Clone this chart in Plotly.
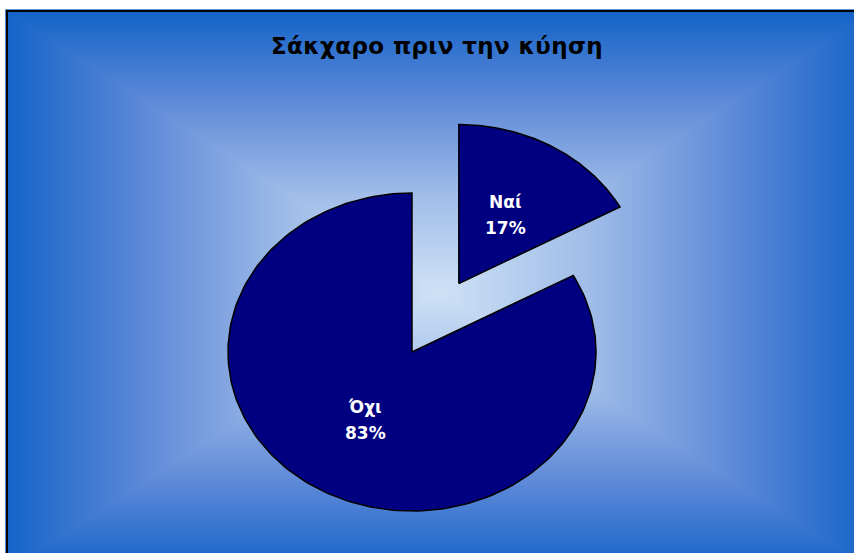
import numpy as np
import plotly.graph_objects as go

# ---- data ----
categories = ["Ναί", "Όχι"]
values = [17, 83]
pull = [0.5, 0.0]
title_text = "Σάκχαρο πριν την κύηση"

# ---- layout constants (pixels) ----
W, H = 854, 553
CX, CY = 412, 352      # pie centre in pixels
RX, RY = 184, 159      # ellipse radii in pixels
FILL = "#000080"
FONT = "DejaVu Sans, Verdana, sans-serif"

def ux(px):
    return (np.asarray(px, dtype=float) - CX) / RX

def uy(py):
    return (CY - np.asarray(py, dtype=float)) / RY

fig = go.Figure()

# ---- background gradient (rectangular "from centre") ----
gx0, gx1, gy0, gy1 = 7, 870, 11, 570
gcx, gcy = (gx0 + gx1) / 2, (gy0 + gy1) / 2 + 0
hw, hh = (gx1 - gx0) / 2, (gy1 - gy0) / 2
pxs = np.linspace(7, W, 240)
pys = np.linspace(H, 11, 160)
PX, PY = np.meshgrid(pxs, pys)
Z = np.maximum(np.abs(PX - gcx) / hw, np.abs(PY - gcy) / hh)
fig.add_trace(go.Heatmap(
    x=ux(pxs), y=uy(pys), z=Z, zmin=0, zmax=1, zsmooth="best",
    colorscale=[[0.0, "rgb(206,225,245)"], [0.35, "rgb(160,188,232)"],
                [0.7, "rgb(90,135,215)"], [1.0, "rgb(20,100,200)"]],
    showscale=False, hoverinfo="skip"))

# ---- pie slices computed from values ----
total = float(sum(values))
start = 90.0
annots = []
for name, v, p in zip(categories, values, pull):
    sweep = 360.0 * v / total
    a0, a1 = start, start - sweep
    mid = np.deg2rad((a0 + a1) / 2)
    ox, oy = p * np.cos(mid), p * np.sin(mid)
    th = np.deg2rad(np.linspace(a0, a1, 200))
    xs = np.concatenate([[ox], ox + np.cos(th), [ox]])
    ys = np.concatenate([[oy], oy + np.sin(th), [oy]])
    fig.add_trace(go.Scatter(x=xs, y=ys, mode="lines", fill="toself",
                             fillcolor=FILL, line=dict(color="black", width=1.5),
                             hoverinfo="skip", showlegend=False))
    lx, ly = ox + 0.5 * np.cos(mid), oy + 0.5 * np.sin(mid)
    pct = f"{round(100 * v / total)}%"
    for txt, sh in ((name, 13), (pct, -13)):
        annots.append(dict(x=lx, y=ly, text=f"<b>{txt}</b>", showarrow=False,
                           yshift=sh, font=dict(family=FONT, size=17, color="white")))
    start = a1

fig.update_layout(
    width=W, height=H, margin=dict(l=0, r=0, t=0, b=0),
    paper_bgcolor="white", plot_bgcolor="white", showlegend=False,
    xaxis=dict(range=[ux(0), ux(W)], domain=[0, 1], visible=False, fixedrange=True),
    yaxis=dict(range=[uy(H), uy(0)], domain=[0, 1], visible=False, fixedrange=True),
    title=dict(text=f'<span style="letter-spacing:0.4px"><b>{title_text}</b></span>',
               x=437 / W, xanchor="center",
               y=1 - 46 / H, yanchor="middle",
               font=dict(family=FONT, size=23, color="black")),
    annotations=annots,
    shapes=[dict(type="rect", xref="paper", yref="paper",
                 x0=7 / W, x1=1.02, y0=-0.02, y1=1 - 11 / H,
                 line=dict(color="black", width=2), layer="above")],
)

fig.write_html("out.html")
